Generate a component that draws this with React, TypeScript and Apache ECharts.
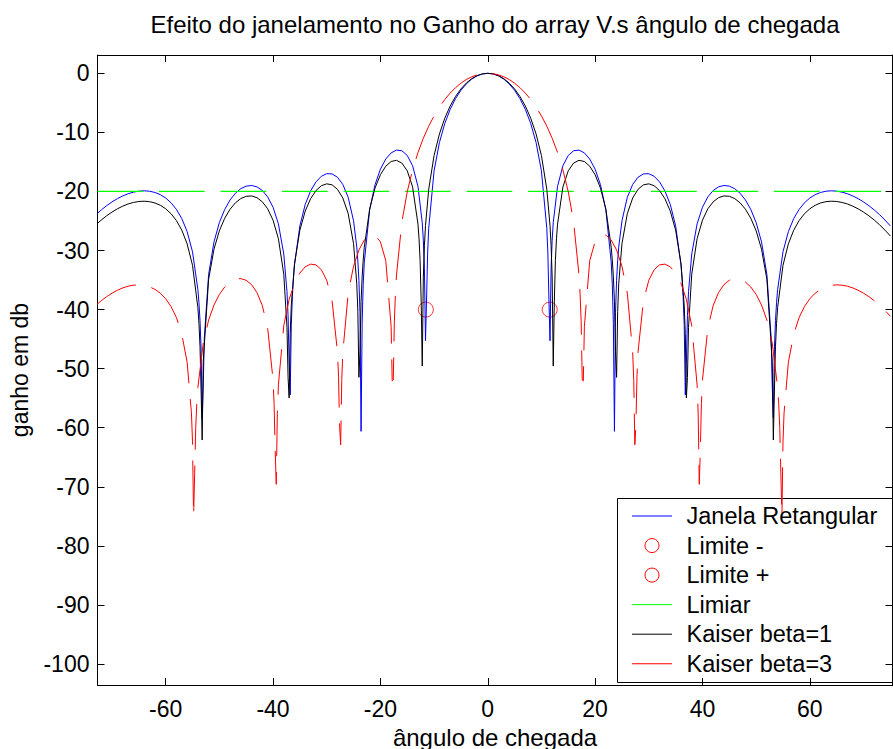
import { useEffect, useRef } from 'react';
import * as echarts from 'echarts';

const FONT = '"Liberation Sans", Arial, Helvetica, sans-serif';

const chartTitle = 'Efeito do janelamento no Ganho do array V.s ângulo de chegada';
const xAxisTitle = 'ângulo de chegada';
const yAxisTitle = 'ganho em db';

// angle of arrival (degrees), 1 degree steps
const angles = [
  -73, -72, -71, -70, -69, -68, -67, -66, -65, -64, -63, -62, -61, -60, -59, -58, -57, -56, -55, -54,
  -53, -52, -51, -50, -49, -48, -47, -46, -45, -44, -43, -42, -41, -40, -39, -38, -37, -36, -35, -34,
  -33, -32, -31, -30, -29, -28, -27, -26, -25, -24, -23, -22, -21, -20, -19, -18, -17, -16, -15, -14,
  -13, -12, -11, -10, -9, -8, -7, -6, -5, -4, -3, -2, -1, 0,
  1, 2, 3, 4, 5, 6, 7, 8, 9, 10, 11, 12, 13, 14, 15, 16, 17, 18, 19, 20,
  21, 22, 23, 24, 25, 26, 27, 28, 29, 30, 31, 32, 33, 34, 35, 36, 37, 38, 39, 40,
  41, 42, 43, 44, 45, 46, 47, 48, 49, 50, 51, 52, 53, 54, 55, 56, 57, 58, 59, 60,
  61, 62, 63, 64, 65, 66, 67, 68, 69, 70, 71, 72, 73, 74, 75,
];

// Janela Retangular (dB)
const rectDb = [
  -23.94, -23.13, -22.41, -21.77, -21.22, -20.76, -20.39, -20.12, -19.95, -19.89, -19.96, -20.17, -20.54, -21.11, -21.92, -23.04, -24.59, -26.80, -30.21, -36.61,
  -52.93, -34.06, -28.54, -25.27, -23.04, -21.44, -20.30, -19.53, -19.10, -18.99, -19.22, -19.83, -20.92, -22.67, -25.48, -30.58, -49.07, -32.43, -25.82, -22.19,
  -19.90, -18.38, -17.43, -16.99, -17.03, -17.59, -18.81, -20.99, -24.97, -35.03, -31.98, -23.10, -18.86, -16.23, -14.51, -13.47, -13.00, -13.11, -13.90, -15.65,
  -19.14, -28.26, -26.24, -16.52, -11.71, -8.48, -6.11, -4.29, -2.88, -1.80, -0.99, -0.43, -0.11, 0,
  -0.11, -0.43, -0.99, -1.80, -2.88, -4.29, -6.11, -8.48, -11.71, -16.52, -26.24, -28.26, -19.14, -15.65, -13.90, -13.11, -13.00, -13.47, -14.51, -16.23,
  -18.86, -23.10, -31.98, -35.03, -24.97, -20.99, -18.81, -17.59, -17.03, -16.99, -17.43, -18.38, -19.90, -22.19, -25.82, -32.43, -49.07, -30.58, -25.48, -22.67,
  -20.92, -19.83, -19.22, -18.99, -19.10, -19.53, -20.30, -21.44, -23.04, -25.27, -28.54, -34.06, -52.93, -36.61, -30.21, -26.80, -24.59, -23.04, -21.92, -21.11,
  -20.54, -20.17, -19.96, -19.89, -19.95, -20.12, -20.39, -20.76, -21.22, -21.77, -22.41, -23.13, -23.94, -24.84, -25.84,
];

// Kaiser beta=1 (dB)
const kaiser1Db = [
  -25.65, -24.84, -24.12, -23.49, -22.94, -22.49, -22.12, -21.86, -21.70, -21.65, -21.73, -21.95, -22.34, -22.93, -23.77, -24.93, -26.55, -28.87, -32.50, -39.65,
  -48.78, -34.86, -29.77, -26.67, -24.53, -23.00, -21.92, -21.20, -20.82, -20.76, -21.05, -21.75, -22.94, -24.86, -27.99, -34.00, -54.95, -32.23, -26.56, -23.32,
  -21.22, -19.85, -19.03, -18.71, -18.88, -19.63, -21.11, -23.74, -28.84, -51.47, -29.44, -22.97, -19.43, -17.17, -15.73, -14.93, -14.73, -15.19, -16.50, -19.24,
  -25.54, -34.50, -19.63, -13.92, -10.26, -7.59, -5.53, -3.92, -2.64, -1.66, -0.92, -0.40, -0.10, 0,
  -0.10, -0.40, -0.92, -1.66, -2.64, -3.92, -5.53, -7.59, -10.26, -13.92, -19.63, -34.50, -25.54, -19.24, -16.50, -15.19, -14.73, -14.93, -15.73, -17.17,
  -19.43, -22.97, -29.44, -51.47, -28.84, -23.74, -21.11, -19.63, -18.88, -18.71, -19.03, -19.85, -21.22, -23.32, -26.56, -32.23, -54.95, -34.00, -27.99, -24.86,
  -22.94, -21.75, -21.05, -20.76, -20.82, -21.20, -21.92, -23.00, -24.53, -26.67, -29.77, -34.86, -48.78, -39.65, -32.50, -28.87, -26.55, -24.93, -23.77, -22.93,
  -22.34, -21.95, -21.73, -21.65, -21.70, -21.86, -22.12, -22.49, -22.94, -23.49, -24.12, -24.84, -25.65, -26.55, -27.54,
];

// Kaiser beta=3 (dB)
const kaiser3Db = [
  -39.27, -38.49, -37.81, -37.22, -36.73, -36.33, -36.04, -35.87, -35.81, -35.90, -36.14, -36.57, -37.22, -38.16, -39.48, -41.35, -44.15, -48.92, -62.39, -53.17,
  -45.69, -41.78, -39.22, -37.43, -36.17, -35.33, -34.86, -34.75, -35.04, -35.78, -37.10, -39.30, -43.12, -51.90, -52.75, -42.72, -38.27, -35.56, -33.81, -32.76,
  -32.30, -32.43, -33.25, -35.04, -38.52, -47.14, -47.28, -37.21, -32.66, -29.91, -28.22, -27.38, -27.39, -28.52, -31.71, -42.87, -34.14, -25.18, -20.06, -16.35,
  -13.41, -10.99, -8.95, -7.21, -5.71, -4.43, -3.34, -2.43, -1.67, -1.06, -0.59, -0.26, -0.07, 0,
  -0.07, -0.26, -0.59, -1.06, -1.67, -2.43, -3.34, -4.43, -5.71, -7.21, -8.95, -10.99, -13.41, -16.35, -20.06, -25.18, -34.14, -42.87, -31.71, -28.52,
  -27.39, -27.38, -28.22, -29.91, -32.66, -37.21, -47.28, -47.14, -38.52, -35.04, -33.25, -32.43, -32.30, -32.76, -33.81, -35.56, -38.27, -42.72, -52.75, -51.90,
  -43.12, -39.30, -37.10, -35.78, -35.04, -34.75, -34.86, -35.33, -36.17, -37.43, -39.22, -41.78, -45.69, -53.17, -62.39, -48.92, -44.15, -41.35, -39.48, -38.16,
  -37.22, -36.57, -36.14, -35.90, -35.81, -35.87, -36.04, -36.33, -36.73, -37.22, -37.81, -38.49, -39.27, -40.14, -41.12,
];

// finer samples around the nulls
const rectNullAngles = [
  -53.8, -53.6, -53.4, -53.2, -52.8, -37.4, -37.2, -36.8, -36.6, -36.4, -36.2, -24.4, -24.2, -23.8, -23.6, -23.4, -23.2, -12.2, -11.8, -11.6, -11.4, -11.2,
  11.2, 11.4, 11.6, 11.8, 12.2, 23.2, 23.4, 23.6, 23.8, 24.2, 24.4, 36.2, 36.4, 36.6, 36.8, 37.2, 37.4, 52.8, 53.2, 53.4, 53.6, 53.8,
];
const rectNullDb = [
  -38.84, -41.88, -46.66, -58.37, -44.82, -36.97, -41.04, -54.44, -42.67, -37.82, -34.72, -29.42, -31.75, -40.54, -60.61, -42.31, -35.72, -25.30, -33.02, -45.27, -38.38, -30.43,
  -30.43, -38.38, -45.27, -33.02, -25.30, -35.72, -42.31, -60.61, -40.54, -31.75, -29.42, -34.72, -37.82, -42.67, -54.44, -41.04, -36.97, -44.82, -58.37, -46.66, -41.88, -38.84,
];

const kaiser1NullAngles = [
  -53.8, -53.6, -53.4, -53.2, -37.4, -37.2, -36.8, -36.6, -24.4, -24.2, -23.8, -23.6, -23.4, -23.2, -12.8, -12.6, -12.4, -12.2, -11.8, -11.6,
  11.6, 11.8, 12.2, 12.4, 12.6, 12.8, 23.2, 23.4, 23.6, 23.8, 24.2, 24.4, 36.6, 36.8, 37.2, 37.4, 53.2, 53.4, 53.6, 53.8,
];
const kaiser1NullDb = [
  -42.33, -46.27, -53.79, -62.08, -43.00, -51.49, -44.04, -39.33, -35.64, -40.30, -47.05, -38.67, -34.45, -31.60, -28.02, -31.72, -38.71, -49.56, -29.15, -25.77,
  -25.77, -29.15, -49.56, -38.71, -31.72, -28.02, -31.60, -34.45, -38.67, -47.05, -40.30, -35.64, -39.33, -44.04, -51.49, -43.00, -62.08, -53.79, -46.27, -42.33,
];

const kaiser3NullAngles = [
  -55.2, -54.8, -54.6, -54.4, -54.2, -39.8, -39.6, -39.4, -39.2, -27.8, -27.6, -27.4, -27.2, -17.8, -17.6, -17.4, -17.2,
  17.2, 17.4, 17.6, 17.8, 27.2, 27.4, 27.6, 27.8, 39.2, 39.4, 39.6, 39.8, 54.2, 54.4, 54.6, 54.8, 55.2,
];
const kaiser3NullDb = [
  -57.48, -75.04, -67.73, -59.98, -55.93, -55.93, -63.89, -69.58, -57.62, -51.26, -59.74, -62.88, -52.02, -52.08, -51.91, -42.05, -37.33,
  -37.33, -42.05, -51.91, -52.08, -52.02, -62.88, -59.74, -51.26, -57.62, -69.58, -63.89, -55.93, -55.93, -59.98, -67.73, -75.04, -57.48,
];

// limits (first null) and threshold
const limitMinus = [[-11.54, -40]];
const limitPlus = [[11.54, -40]];
const thresholdAngles = [-72.7, 75.4];
const thresholdDb = [-20, -20];

const seriesNames = ['Janela Retangular', 'Limite -', 'Limite +', 'Limiar', 'Kaiser beta=1', 'Kaiser beta=3'];
const seriesColors = ['#0000ff', '#ff0000', '#ff0000', '#00ff00', '#000000', '#ff0000'];
const legendMarkers = ['line', 'circle', 'circle', 'line', 'line', 'line'];

function mergePoints(bx: number[], by: number[], ex: number[], ey: number[]) {
  const pts = bx.map((x, i) => [x, by[i]]).concat(ex.map((x, i) => [x, ey[i]]));
  pts.sort((a, b) => a[0] - b[0]);
  return pts;
}

export default function App() {
  const ref = useRef<HTMLDivElement>(null);

  useEffect(() => {
    if (!ref.current) return;
    const chart = echarts.init(ref.current, undefined, { renderer: 'svg' });

    const DASH = [45.7, 15.8];
    const axisLine = { show: true, onZero: false, lineStyle: { color: '#000', width: 1 } };
    const axisTick = { show: true, inside: true, length: 7, lineStyle: { color: '#000', width: 1 } };
    const labelFmt20 = (v: number) => (Math.abs(v % 20) < 1e-6 ? String(v) : '');
    const labelFmt10 = (v: number) => (Math.abs(v % 10) < 1e-6 ? String(v) : '');

    const legendChildren: any[] = [
      {
        type: 'rect',
        shape: { x: 617.5, y: 498.5, width: 300, height: 184 },
        style: { fill: '#ffffff', stroke: '#000000', lineWidth: 1 },
      },
    ];
    seriesNames.forEach((name, i) => {
      const y = 516 + i * 29.55;
      if (legendMarkers[i] === 'circle') {
        legendChildren.push({
          type: 'circle',
          shape: { cx: 652, cy: y, r: 7 },
          style: { fill: 'none', stroke: seriesColors[i], lineWidth: 1 },
        });
      } else {
        legendChildren.push({
          type: 'line',
          shape: { x1: 632, y1: y, x2: 672, y2: y },
          style: { stroke: seriesColors[i], lineWidth: 1 },
        });
      }
      legendChildren.push({
        type: 'text',
        x: 686.5,
        y,
        style: {
          text: name,
          fill: '#000',
          fontSize: 23.5,
          fontFamily: FONT,
          align: 'left',
          verticalAlign: 'middle',
        },
      });
    });

    const option: any = {
      animation: false,
      backgroundColor: '#ffffff',
      title: {
        text: chartTitle,
        left: 495,
        top: 12.5,
        textAlign: 'center',
        padding: 0,
        textStyle: { fontSize: 24, fontWeight: 'normal', fontFamily: FONT, color: '#000' },
      },
      grid: {
        left: 97.5,
        top: 55,
        width: 795,
        height: 630,
        containLabel: false,
        outerBoundsMode: 'none',
        show: false,
      },
      xAxis: [
        {
          type: 'value',
          position: 'bottom',
          min: -72.7,
          max: 75.4,
          splitNumber: 7,
          axisLine,
          axisTick,
          splitLine: { show: false },
          axisLabel: {
            show: true,
            color: '#000',
            fontSize: 23,
            fontFamily: FONT,
            margin: 12,
            showMinLabel: false,
            showMaxLabel: false,
            formatter: labelFmt20,
          },
          name: xAxisTitle,
          nameLocation: 'middle',
          nameGap: 40,
          nameMoveOverlap: false,
          nameTextStyle: { color: '#000', fontSize: 24, fontFamily: FONT },
        },
        {
          type: 'value',
          position: 'top',
          min: -72.7,
          max: 75.4,
          splitNumber: 7,
          axisLine,
          axisTick,
          splitLine: { show: false },
          axisLabel: { show: false },
        },
      ],
      yAxis: [
        {
          type: 'value',
          position: 'left',
          min: -103.55,
          max: 3.1,
          splitNumber: 10,
          axisLine,
          axisTick,
          splitLine: { show: false },
          axisLabel: {
            show: true,
            color: '#000',
            fontSize: 23,
            fontFamily: FONT,
            margin: 8,
            showMinLabel: false,
            showMaxLabel: false,
            formatter: labelFmt10,
          },
          name: yAxisTitle,
          nameLocation: 'middle',
          nameGap: 66,
          nameMoveOverlap: false,
          nameTextStyle: { color: '#000', fontSize: 23, fontFamily: FONT },
        },
        {
          type: 'value',
          position: 'right',
          min: -103.55,
          max: 3.1,
          splitNumber: 10,
          axisLine,
          axisTick,
          splitLine: { show: false },
          axisLabel: { show: false },
        },
      ],
      series: [
        {
          name: seriesNames[0],
          type: 'line',
          xAxisIndex: 0,
          yAxisIndex: 0,
          data: mergePoints(angles, rectDb, rectNullAngles, rectNullDb),
          showSymbol: false,
          symbol: 'none',
          lineStyle: { color: seriesColors[0], width: 1 },
          silent: true,
        },
        {
          name: seriesNames[1],
          type: 'scatter',
          xAxisIndex: 0,
          yAxisIndex: 0,
          data: limitMinus,
          symbol: 'circle',
          symbolSize: 15,
          itemStyle: { color: 'rgba(0,0,0,0)', borderColor: seriesColors[1], borderWidth: 1 },
          silent: true,
        },
        {
          name: seriesNames[2],
          type: 'scatter',
          xAxisIndex: 0,
          yAxisIndex: 0,
          data: limitPlus,
          symbol: 'circle',
          symbolSize: 15,
          itemStyle: { color: 'rgba(0,0,0,0)', borderColor: seriesColors[2], borderWidth: 1 },
          silent: true,
        },
        {
          name: seriesNames[3],
          type: 'line',
          xAxisIndex: 0,
          yAxisIndex: 0,
          data: thresholdAngles.map((x, i) => [x, thresholdDb[i]]),
          showSymbol: false,
          symbol: 'none',
          lineStyle: { color: seriesColors[3], width: 1.2, type: DASH },
          silent: true,
        },
        {
          name: seriesNames[4],
          type: 'line',
          xAxisIndex: 0,
          yAxisIndex: 0,
          data: mergePoints(angles, kaiser1Db, kaiser1NullAngles, kaiser1NullDb),
          showSymbol: false,
          symbol: 'none',
          lineStyle: { color: seriesColors[4], width: 1 },
          silent: true,
        },
        {
          name: seriesNames[5],
          type: 'line',
          xAxisIndex: 0,
          yAxisIndex: 0,
          data: mergePoints(angles, kaiser3Db, kaiser3NullAngles, kaiser3NullDb),
          showSymbol: false,
          symbol: 'none',
          lineStyle: { color: seriesColors[5], width: 1, type: DASH },
          silent: true,
        },
      ],
      graphic: { elements: [{ type: 'group', z: 100, silent: true, children: legendChildren }] },
    };

    chart.setOption(option);
    return () => chart.dispose();
  }, []);

  return (
    <div
      ref={ref}
      style={{ position: 'fixed', left: 0, top: 0, width: 893, height: 749, background: '#fff' }}
    />
  );
}
